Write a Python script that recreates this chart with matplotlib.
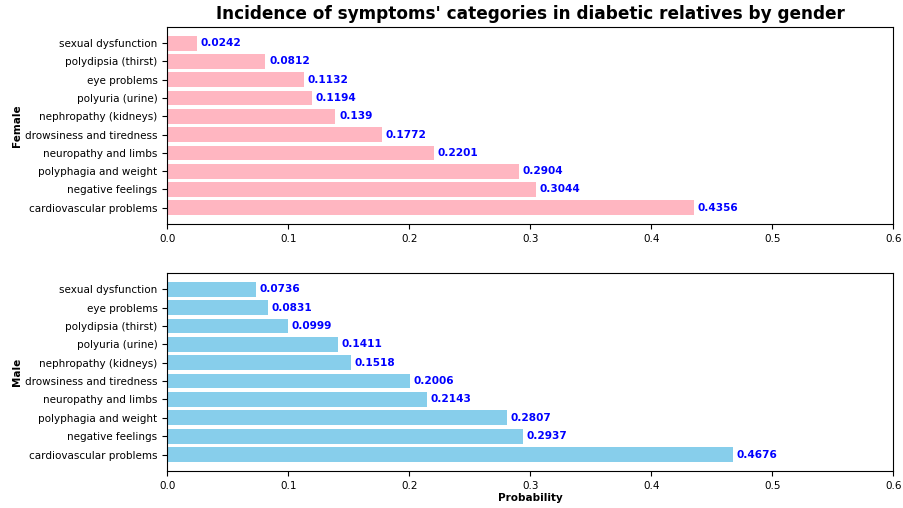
import matplotlib.pyplot as plt

female_labels = ['cardiovascular problems', 'negative feelings', 'polyphagia and weight',
                 'neuropathy and limbs', 'drowsiness and tiredness', 'nephropathy (kidneys)',
                 'polyuria (urine)', 'eye problems', 'polydipsia (thirst)', 'sexual dysfunction']
female_values = [0.4356, 0.3044, 0.2904, 0.2201, 0.1772, 0.139, 0.1194, 0.1132, 0.0812, 0.0242]

male_labels = ['cardiovascular problems', 'negative feelings', 'polyphagia and weight',
               'neuropathy and limbs', 'drowsiness and tiredness', 'nephropathy (kidneys)',
               'polyuria (urine)', 'polydipsia (thirst)', 'eye problems', 'sexual dysfunction']
male_values = [0.4676, 0.2937, 0.2807, 0.2143, 0.2006, 0.1518, 0.1411, 0.0999, 0.0831, 0.0736]

fig = plt.figure(figsize=(9.04, 5.08), dpi=100)
ax1 = fig.add_axes([0.185, 0.559, 0.803, 0.388])
ax2 = fig.add_axes([0.185, 0.073, 0.803, 0.390])


def draw(ax, labels, values, color, ylabel):
    ax.barh(labels, values, color=color)
    for i, v in enumerate(values):
        ax.text(v + 0.003, i, str(v), color='blue', fontweight='bold',
                va='center', ha='left', fontsize=7.6)
    ax.set_xlim(0, 0.6)
    ax.set_ylabel(ylabel, fontweight='bold', fontsize=7.5, labelpad=2)
    ax.tick_params(labelsize=7.5)


draw(ax1, female_labels, female_values, '#FFB6C1', 'Female')
draw(ax2, male_labels, male_values, '#87CEEB', 'Male')

ax1.set_title("Incidence of symptoms' categories in diabetic relatives by gender",
              fontsize=12.2, fontweight='bold')
ax2.set_xlabel('Probability', fontweight='bold', fontsize=7.5, labelpad=1.5)

fig.savefig('out.png', dpi=100)
